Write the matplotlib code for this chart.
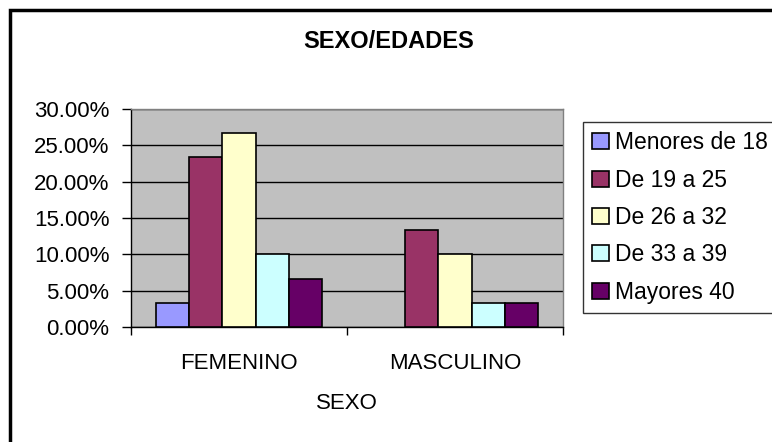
import matplotlib.pyplot as plt
from matplotlib.patches import Rectangle
from matplotlib.ticker import FuncFormatter

plt.rcParams['font.family'] = ['Liberation Sans', 'DejaVu Sans']

categories = ['FEMENINO', 'MASCULINO']
series = ['Menores de 18', 'De 19 a 25', 'De 26 a 32', 'De 33 a 39', 'Mayores 40']
values = [
    [3.33, 0.0],
    [23.33, 13.33],
    [26.67, 10.0],
    [10.0, 3.33],
    [6.67, 3.33],
]
colors = ['#9999FF', '#993366', '#FFFFCC', '#CCFFFF', '#660066']

fig = plt.figure(figsize=(7.72, 4.42), dpi=100)
ax = fig.add_axes([131 / 772, 1 - 327 / 442, 432 / 772, 218 / 442])
ax.set_facecolor('#C0C0C0')

w = 0.1537
for i, (name, vals, col) in enumerate(zip(series, values, colors)):
    xs = [k + (i - 2) * w for k in range(len(categories))]
    bars = ax.bar(xs, vals, width=w, color=col, edgecolor='black',
                  linewidth=1.2, label=name, zorder=3)
    # empty bars show no outline
    for b, v in zip(bars, vals):
        if v == 0:
            b.set_linewidth(0)

ax.set_xlim(-0.5, 1.5)
ax.set_ylim(0, 30)
ax.set_yticks(range(0, 31, 5))
ax.yaxis.set_major_formatter(FuncFormatter(lambda v, p: f'{v:.2f}%'))
ax.grid(axis='y', color='black', linewidth=1, zorder=1)

ax.set_xticks([0, 1])
ax.set_xticklabels(categories)
ax.set_xticks([-0.5, 0.5, 1.5], minor=True)
ax.tick_params(axis='x', which='major', length=0, pad=18.5, labelsize=16)
ax.tick_params(axis='x', which='minor', length=6, width=1, direction='out')
ax.tick_params(axis='y', length=6.5, width=1, labelsize=16, pad=9)

for s in ['left', 'bottom']:
    ax.spines[s].set_color('black')
    ax.spines[s].set_linewidth(1)
for s in ['top', 'right']:
    ax.spines[s].set_color('#808080')
    ax.spines[s].set_linewidth(1)

ax.set_xlabel('SEXO', fontsize=16, labelpad=14)
fig.text(389 / 772, 1 - 41 / 442, 'SEXO/EDADES', fontsize=17, fontweight='bold',
         ha='center', va='center')

leg = fig.legend(loc='upper left', bbox_to_anchor=(583 / 772, 1 - 122 / 442),
                 fontsize=16.5, frameon=True, fancybox=False, shadow=False,
                 handlelength=0.75, handleheight=0.7, handletextpad=0.25,
                 labelspacing=0.63, borderpad=0.4, borderaxespad=0)
leg.get_frame().set_edgecolor('black')
leg.get_frame().set_linewidth(1)

fig.patches.append(Rectangle((10 / 772, -0.5), 2, 1.5 - 10 / 442,
                             transform=fig.transFigure, fill=False,
                             edgecolor='black', linewidth=2.5))

fig.savefig('out.png', dpi=100)
